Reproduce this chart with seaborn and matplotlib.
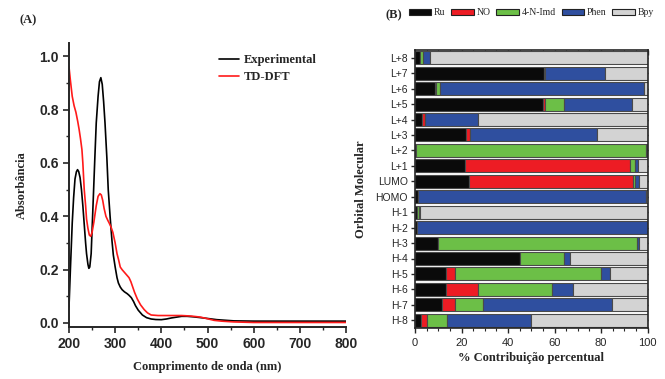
import pandas as pd
import seaborn as sns
import matplotlib.pyplot as plt
from matplotlib.patches import Patch
from matplotlib.ticker import MultipleLocator

# ---- data (A): UV-Vis spectra ----
wl_exp = [200, 203, 207, 210, 213, 216, 218.5, 221, 224, 227, 230, 233, 236, 238, 241,
          243, 245, 248, 252, 256, 259, 263, 266, 269, 272, 275, 278, 282, 285, 289,
          293, 296, 300, 304, 307, 311, 315, 320, 326, 330, 335, 340, 344, 350, 359,
          368, 378, 388, 400, 411, 422, 433, 444, 456, 470, 491, 520, 557, 600, 700,
          800]
abs_exp = [0.06, 0.2, 0.375, 0.47, 0.54, 0.567, 0.575, 0.568, 0.545, 0.5, 0.44, 0.37,
           0.3, 0.26, 0.22, 0.205, 0.21, 0.26, 0.44, 0.62, 0.75, 0.85, 0.905, 0.92,
           0.895, 0.83, 0.75, 0.62, 0.5, 0.4, 0.31, 0.255, 0.21, 0.17, 0.15, 0.135,
           0.125, 0.117, 0.11, 0.104, 0.095, 0.08, 0.065, 0.048, 0.03, 0.02, 0.015,
           0.013, 0.0125, 0.015, 0.019, 0.022, 0.025, 0.025, 0.023, 0.019, 0.0125,
           0.008, 0.007, 0.007, 0.007]

wl_dft = [200, 203, 207, 211, 215, 219, 222, 225, 228, 230, 233, 236, 238, 241, 244,
          247, 250, 254, 259, 263, 267, 270, 273, 276, 280, 284, 287, 291, 295, 300,
          304, 307, 311, 315, 320, 325, 330, 334, 337, 342, 348, 355, 363, 370, 378,
          393, 412, 444, 465, 485, 500, 514, 530, 557, 600, 800]
abs_dft = [0.96, 0.91, 0.85, 0.815, 0.79, 0.755, 0.725, 0.69, 0.65, 0.6, 0.5, 0.44,
           0.39, 0.355, 0.33, 0.325, 0.34, 0.38, 0.44, 0.475, 0.485, 0.48, 0.46,
           0.43, 0.40, 0.385, 0.375, 0.36, 0.34, 0.3, 0.26, 0.24, 0.21, 0.2, 0.19,
           0.18, 0.17, 0.155, 0.14, 0.115, 0.09, 0.068, 0.05, 0.038, 0.03, 0.028,
           0.028, 0.028, 0.026, 0.022, 0.016, 0.01, 0.007, 0.004, 0.002, 0.002]

# ---- data (B): orbital contributions (%) ----
orbitals = ["L+8", "L+7", "L+6", "L+5", "L+4", "L+3", "L+2", "L+1", "LUMO", "HOMO",
            "H-1", "H-2", "H-3", "H-4", "H-5", "H-6", "H-7", "H-8"]
ru   = [2.0, 55.4, 8.6, 55.0, 3.2, 22.0, 0.5, 21.6, 23.3, 1.4, 1.0, 0.7, 10.0, 45.3, 13.4, 13.5, 11.8, 2.6]
no   = [0.0, 0.0, 0.6, 0.7, 1.3, 1.7, 0.0, 71.0, 70.6, 0.0, 0.0, 0.0, 0.0, 0.0, 3.7, 13.5, 5.6, 2.4]
imd  = [1.5, 0.4, 1.7, 8.3, 0.0, 0.0, 99.0, 2.0, 0.7, 0.0, 0.8, 0.0, 85.3, 19.0, 62.9, 31.8, 11.9, 8.6]
phen = [3.0, 26.0, 87.6, 29.5, 22.7, 54.7, 0.3, 1.4, 1.6, 98.0, 0.2, 99.3, 1.0, 2.3, 3.9, 9.1, 55.4, 36.3]
bpy  = [93.5, 18.2, 1.5, 6.5, 72.8, 21.6, 0.2, 4.0, 3.8, 0.6, 98.0, 0.0, 3.7, 33.4, 16.1, 32.1, 15.3, 50.1]
components = ["Ru", "NO", "4-N-Imd", "Phen", "Bpy"]
comp_colors = ["#0a0a0a", "#ed1c24", "#6cbf47", "#2f4f9f", "#d3d3d3"]

sns.set_style("ticks")
plt.rcParams["font.family"] = ["Liberation Sans", "DejaVu Sans"]
serif = "Liberation Serif"

fig = plt.figure(figsize=(6.65, 3.79), dpi=100)

# ---------------- panel A ----------------
axA = fig.add_axes([69 / 665, 1 - 327 / 379, 277 / 665, 284 / 379])
sns.lineplot(x=wl_exp, y=abs_exp, ax=axA, color="black", lw=1.2, label="Experimental")
sns.lineplot(x=wl_dft, y=abs_dft, ax=axA, color="#ff1a1a", lw=1.2, label="TD-DFT")
axA.set_xlim(200, 800)
axA.set_ylim(-0.015, 1.05)
axA.set_yticks([0.0, 0.2, 0.4, 0.6, 0.8, 1.0])
axA.xaxis.set_minor_locator(MultipleLocator(50))
axA.yaxis.set_minor_locator(MultipleLocator(0.1))
axA.tick_params(axis="both", which="major", direction="out", length=4, width=1.2,
                labelsize=10)
axA.tick_params(axis="both", which="minor", direction="out", length=2.5, width=1)
for lab in axA.get_xticklabels() + axA.get_yticklabels():
    lab.set_fontweight("bold")
for s in ["top", "right"]:
    axA.spines[s].set_visible(False)
for s in ["left", "bottom"]:
    axA.spines[s].set_linewidth(1.4)
axA.set_xlabel("Comprimento de onda (nm)", family=serif, fontweight="bold",
               fontsize=9, labelpad=7)
axA.set_ylabel("Absorbância", family=serif, fontweight="bold", fontsize=9,
               labelpad=8)
axA.legend(loc="upper left", bbox_to_anchor=(0.5, 1.0), frameon=False,
           handlelength=1.6, handletextpad=0.4, labelspacing=0.4,
           prop={"family": serif, "weight": "bold", "size": 9})

# ---------------- panel B ----------------
axB = fig.add_axes([415 / 665, 1 - 328 / 379, 232.5 / 665, 278 / 379])
df = pd.DataFrame({"Orbital": orbitals, "Ru": ru, "NO": no, "4-N-Imd": imd,
                   "Phen": phen, "Bpy": bpy})
left = pd.Series(0.0, index=df.index)
for comp, col in zip(components, comp_colors):
    axB.barh(df["Orbital"], df[comp], left=left, height=0.84, color=col,
             edgecolor="#4a4a4a", linewidth=0.8)
    left = left + df[comp]
axB.set_xlim(0, 100)
axB.set_ylim(len(orbitals) - 0.5, -0.5)
axB.set_xticks([0, 20, 40, 60, 80, 100])
axB.xaxis.set_minor_locator(MultipleLocator(5))
axB.tick_params(axis="x", which="both", bottom=True, top=True, labelsize=8)
axB.tick_params(axis="x", which="major", direction="out", length=3.5, width=1)
axB.tick_params(axis="x", which="minor", direction="out", length=2, width=0.8)
axB.tick_params(axis="y", which="major", left=True, right=True, direction="out",
                length=3, width=1, labelsize=7.5, pad=2)
for tk in axB.xaxis.get_major_ticks() + axB.xaxis.get_minor_ticks():
    tk.tick2line.set_marker(3)
for tk in axB.yaxis.get_major_ticks():
    tk.tick2line.set_marker(0)
for s in axB.spines.values():
    s.set_linewidth(1.2)
axB.set_xlabel("% Contribuição percentual", family=serif, fontweight="bold",
               fontsize=9, labelpad=3)
axB.set_ylabel("Orbital Molecular", family=serif, fontweight="bold", fontsize=9,
               labelpad=6)
handles = [Patch(facecolor=c, edgecolor="#222222", linewidth=0.8) for c in comp_colors]
axB.legend(handles, components, loc="lower center", bbox_to_anchor=(0.5, 1.1),
           ncol=5, frameon=False, handlelength=2.3, handleheight=0.7,
           handletextpad=0.3, columnspacing=0.6, borderpad=0,
           prop={"family": serif, "size": 7})

fig.text(20 / 665, 1 - 20 / 379, "(A)", family=serif, fontweight="bold",
         fontsize=9, va="center")
fig.text(385 / 665, 1 - 15 / 379, "(B)", family=serif, fontweight="bold",
         fontsize=9, va="center")

fig.savefig("out.png", dpi=100)
